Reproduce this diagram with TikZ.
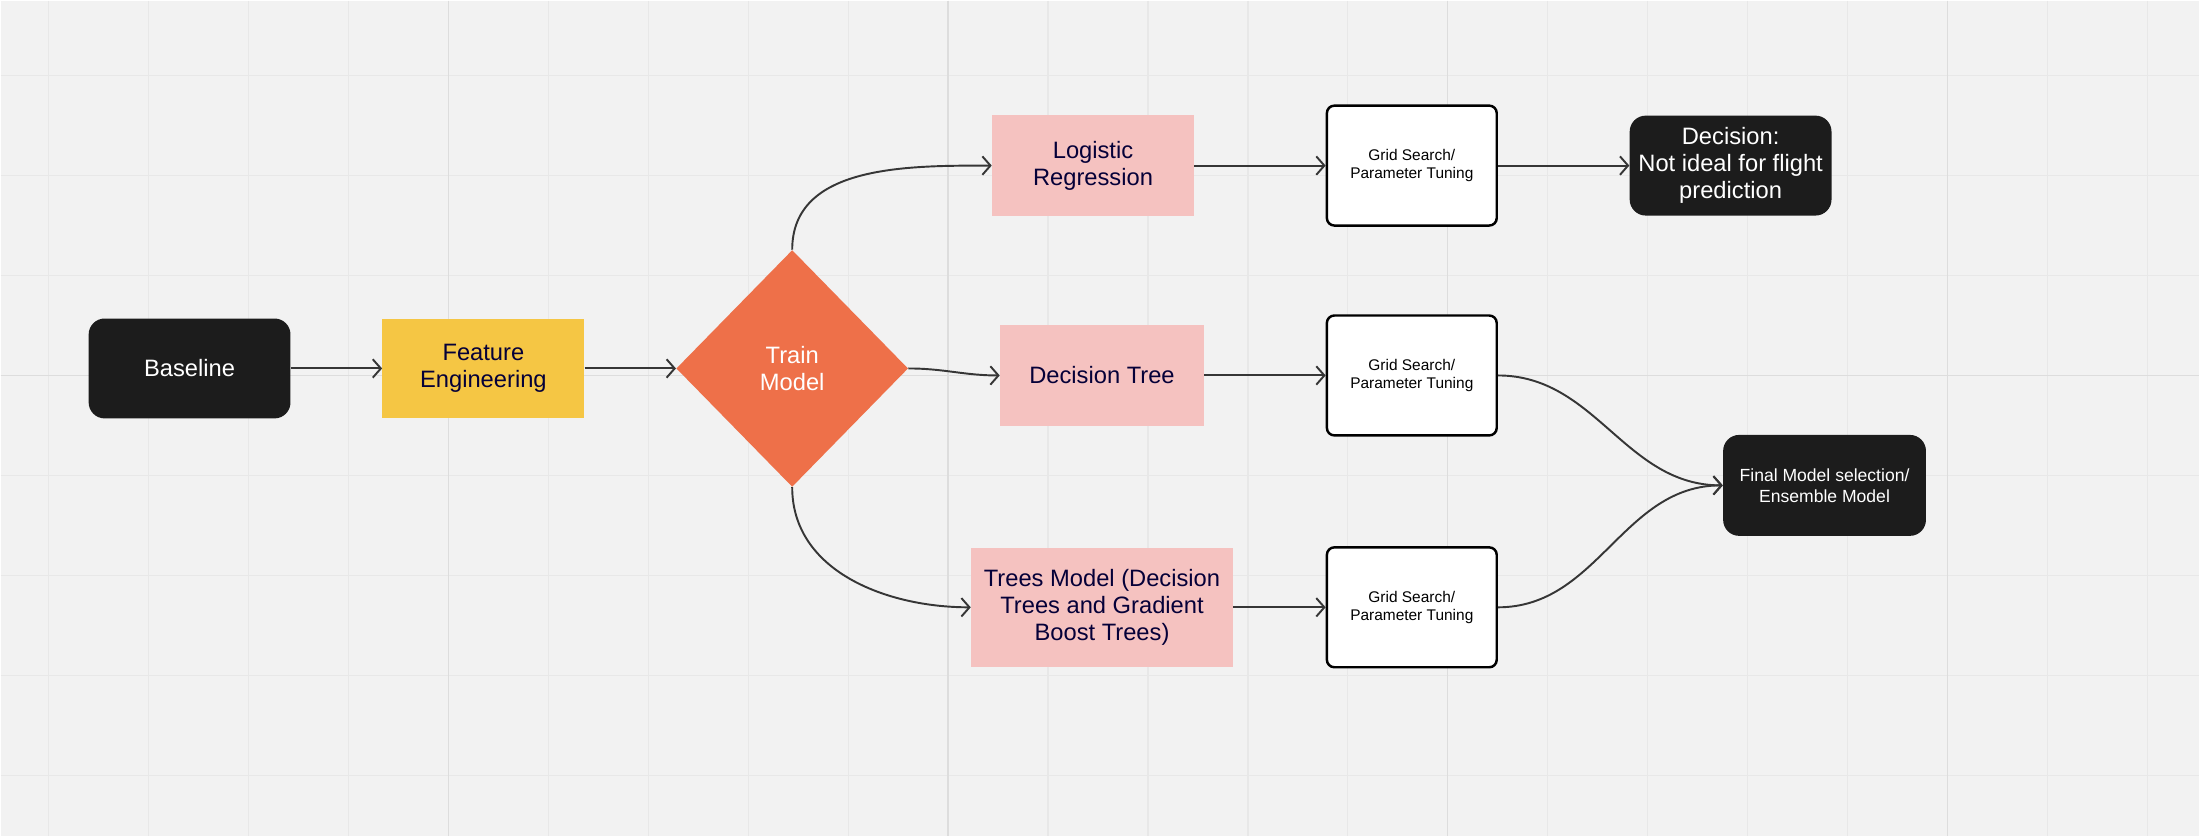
\documentclass[tikz,border=0pt]{standalone}
\usepackage{fontspec}
\setmainfont{Liberation Sans}
\usepackage{xcolor}
\usepackage{tikz}
\usetikzlibrary{positioning,arrows.meta,shapes.geometric}

\definecolor{boardbg}{HTML}{F2F2F2}
\definecolor{gridlite}{HTML}{E8E8E8}
\definecolor{griddark}{HTML}{DDDDDD}
\definecolor{inkblack}{HTML}{1C1C1C}
\definecolor{featyellow}{HTML}{F5C644}
\definecolor{trainorange}{HTML}{EE7049}
\definecolor{modelpink}{HTML}{F5C2C0}
\definecolor{navytext}{HTML}{050038}
\definecolor{linkgray}{HTML}{363636}

\tikzset{
  darkbox/.style={fill=inkblack,text=white,rounded corners=0.32cm,minimum width=4.04cm,minimum height=2cm,align=center,
    font=\fontsize{13.5}{15.4}\selectfont},
  flatbox/.style={text=navytext,minimum width=4.04cm,minimum height=2.02cm,align=center,
    font=\fontsize{13.5}{15.4}\selectfont},
  tunebox/.style={fill=white,draw=black,line width=1.4pt,rounded corners=0.15cm,minimum width=3.4cm,minimum height=2.4cm,
    align=center,font=\fontsize{8.8}{10.4}\selectfont},
  link/.style={draw=linkgray,line width=1.1pt,-{Straight Barb[length=4.6pt,width=10.5pt]}},
}

\begin{document}
\begin{tikzpicture}[x=0.02cm,y=-0.02cm]
% board with grid
\fill[boardbg] (0,0) rectangle (2200,836);
\foreach \x in {48,148,...,2148}
  \draw[gridlite,line width=0.7pt] (\x,0) -- (\x,836);
\foreach \y in {75,175,...,775}
  \draw[gridlite,line width=0.7pt] (0,\y) -- (2200,\y);
\foreach \x in {448,948,1448,1948}
  \draw[griddark,line width=0.8pt] (\x,0) -- (\x,836);
\draw[griddark,line width=0.8pt] (0,375) -- (2200,375);
\useasboundingbox (0,0) rectangle (2200,836);

% pipeline nodes
\node[darkbox] (baseline) at (189,368) {Baseline};
\node[flatbox,fill=featyellow,minimum height=2cm] (feature) at (483,368) {Feature\\Engineering};
\node[diamond,fill=trainorange,text=white,inner sep=0pt,minimum width=4.64cm,minimum height=4.74cm,align=center,
  font=\fontsize{13.5}{15.4}\selectfont] (train) at (792,368) {Train\\Model};

% models
\node[flatbox,fill=modelpink] (logreg) at (1093,165) {Logistic\\Regression};
\node[flatbox,fill=modelpink,minimum width=4.08cm] (dtree) at (1102,375) {Decision Tree};
\node[flatbox,fill=modelpink,minimum width=5.24cm,minimum height=2.38cm] (trees) at (1102,607)
  {Trees Model (Decision\\Trees and Gradient\\Boost Trees)};

% tuning
\node[tunebox] (tune1) at (1412,165) {Grid Search/\\Parameter Tuning};
\node[tunebox] (tune2) at (1412,375) {Grid Search/\\Parameter Tuning};
\node[tunebox] (tune3) at (1412,607) {Grid Search/\\Parameter Tuning};

% outcomes
\node[darkbox] (decision) at (1731,165) {Decision:\\Not ideal for flight\\prediction};
\node[darkbox,minimum width=4.06cm,minimum height=2.02cm,font=\fontsize{10}{12}\selectfont] (final) at (1825,485)
  {Final Model selection/\\Ensemble Model};

% connectors
\draw[link] (baseline) -- (feature);
\draw[link] (feature) -- (train.west);
\draw[link] (train.north) to[out=90,in=180] (logreg.west);
\draw[link] (train.east) to[out=0,in=180] (dtree.west);
\draw[link] (train.south) to[out=-90,in=180] (trees.west);
\draw[link] (logreg) -- (tune1);
\draw[link] (dtree) -- (tune2);
\draw[link] (trees) -- (tune3);
\draw[link] (tune1) -- (decision);
\draw[link] (tune2.east) to[out=0,in=180] (final.west);
\draw[link] (tune3.east) to[out=0,in=180] (final.west);
\end{tikzpicture}
\end{document}
